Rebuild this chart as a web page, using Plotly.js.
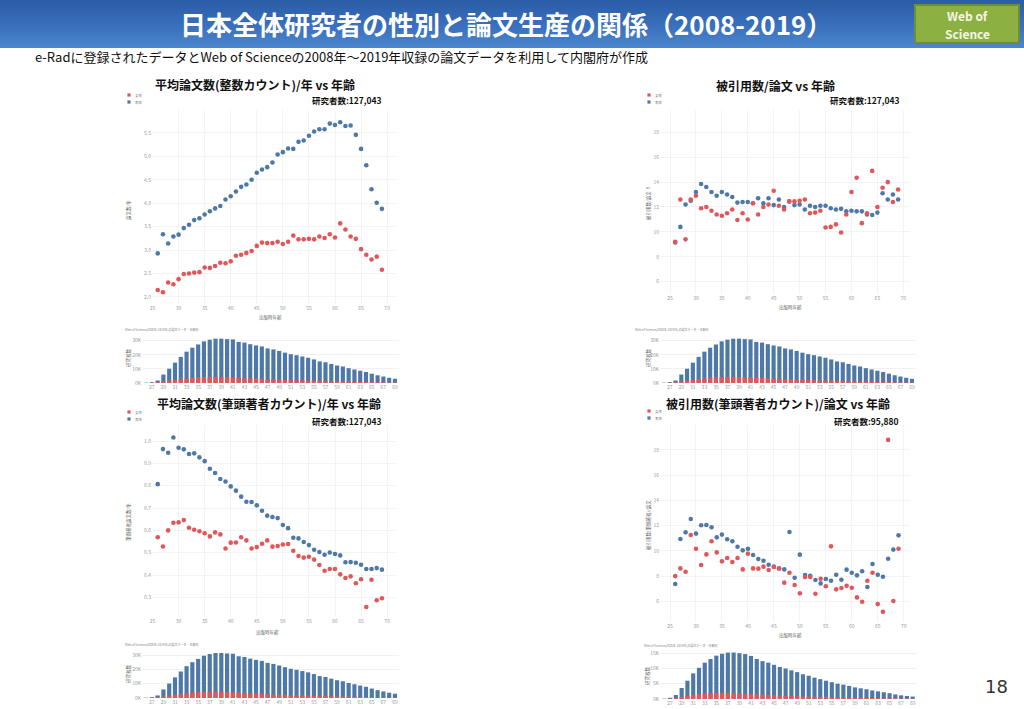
<!DOCTYPE html>
<html><head><meta charset="utf-8">
<script src="https://cdn.plot.ly/plotly-3.0.1.min.js"></script>
<style>
html,body{margin:0;padding:0;background:#fff;}
#hdr{position:absolute;left:0;top:0;width:1024px;height:48px;background:linear-gradient(180deg,#2b5ca6 0%,#3a70bd 55%,#4b86cf 100%);}
#chart{position:absolute;left:0;top:0;width:1024px;height:709px;}
</style></head><body>
<div id="hdr"></div><div id="chart"></div>
<script>
// ---- data ----
const ages = [26,27,28,29,30,31,32,33,34,35,36,37,38,39,40,41,42,43,44,45,46,47,48,49,50,51,52,53,54,55,56,57,58,59,60,61,62,63,64,65,66,67,68,69];
const barTickAges = [27,29,31,33,35,37,39,41,43,45,47,49,51,53,55,57,59,61,63,65,67,69];

// 平均論文数(整数カウント)/年
const papersMen   = [2.93,3.34,3.14,3.29,3.33,3.47,3.54,3.64,3.68,3.76,3.83,3.89,3.94,4.08,4.15,4.25,4.35,4.40,4.50,4.65,4.72,4.77,4.87,5.04,5.09,5.17,5.16,5.31,5.34,5.44,5.53,5.58,5.58,5.70,5.67,5.73,5.65,5.66,5.46,5.16,4.81,4.30,4.01,3.88];
const papersWomen = [2.15,2.10,2.31,2.27,2.38,2.49,2.50,2.52,2.53,2.63,2.62,2.66,2.73,2.72,2.76,2.88,2.90,2.94,2.98,3.09,3.16,3.15,3.15,3.18,3.13,3.18,3.31,3.23,3.23,3.24,3.23,3.29,3.26,3.34,3.27,3.57,3.44,3.29,3.24,3.02,2.90,2.80,2.86,2.58];

// 被引用数/論文
const citesMen   = [9.15,10.4,12.2,12.5,13.2,13.85,13.6,13.2,12.9,13.2,13.0,12.8,12.35,12.4,12.4,12.3,12.7,12.3,12.7,12.15,12.6,12.0,12.45,12.15,12.2,11.8,12.1,12.0,12.1,12.1,11.9,11.8,11.85,11.65,11.7,11.65,11.65,11.4,11.35,11.55,13.1,12.6,13.0,12.6];
const citesWomen = [9.2,12.6,9.4,12.6,12.9,11.9,12.0,11.7,11.4,11.3,11.5,11.8,10.95,11.5,11.0,12.3,11.4,12.0,12.2,13.3,12.1,11.8,12.45,12.45,12.5,12.6,11.5,11.55,11.7,10.35,10.4,10.6,9.95,11.4,13.2,14.35,10.7,11.5,14.9,12.0,13.55,14.0,12.4,13.4];

// 平均論文数(筆頭著者カウント)/年
const firstMen   = [0.807,0.964,0.948,1.016,0.970,0.963,0.942,0.945,0.927,0.910,0.876,0.857,0.830,0.819,0.797,0.778,0.751,0.728,0.727,0.712,0.688,0.666,0.660,0.655,0.624,0.610,0.567,0.564,0.548,0.534,0.513,0.503,0.491,0.501,0.494,0.488,0.457,0.458,0.455,0.446,0.427,0.427,0.431,0.424];
const firstWomen = [0.569,0.528,0.600,0.634,0.636,0.646,0.612,0.603,0.596,0.587,0.573,0.591,0.582,0.519,0.545,0.546,0.569,0.555,0.519,0.525,0.540,0.555,0.527,0.530,0.537,0.539,0.509,0.485,0.478,0.482,0.469,0.445,0.419,0.427,0.427,0.403,0.387,0.394,0.363,0.381,0.257,0.379,0.287,0.296];

// 被引用数(筆頭著者カウント)/論文
const firstCitesMen   = [7.37,10.94,11.47,12.53,11.37,12.03,12.05,11.87,11.07,11.29,10.92,10.76,10.33,10.04,10.17,9.67,9.35,9.22,8.90,8.75,8.6,8.53,11.5,7.87,9.7,8.08,8.03,7.69,7.42,7.77,7.63,8.11,7.71,8.51,8.27,8.06,8.38,7.13,8.96,8.11,7.95,9.38,10.1,11.23];
const firstCitesWomen = [8.0,8.61,8.35,11.26,10.17,8.88,9.72,10.76,9.88,9.17,9.43,9.12,9.43,8.53,9.78,8.61,8.59,8.75,8.48,8.72,8.61,7.48,8.27,7.29,6.63,7.93,7.93,6.60,7.79,7.19,10.36,6.95,7.05,7.24,7.08,6.31,5.97,7.63,8.27,5.78,5.17,18.8,6.02,10.17];

// 研究者数 (千人) — 全研究者 127,043
const countAll   = [0.2,0.6,1.8,6.0,10.1,14.4,18.5,22.2,25.0,27.3,29.5,30.7,31.4,31.4,31.1,30.9,29.1,28.6,27.5,26.6,25.9,24.5,23.8,22.7,21.5,20.4,19.7,18.8,17.9,16.7,15.3,14.7,13.5,12.4,11.7,10.5,9.6,8.7,7.8,6.6,5.5,4.6,3.7,3.0];
const countWomen = [0.05,0.2,0.5,1.0,1.6,2.2,2.8,3.3,3.7,4.0,4.2,4.3,4.3,4.2,4.1,3.9,3.7,3.5,3.3,3.1,2.9,2.7,2.5,2.3,2.2,2.0,1.9,1.8,1.7,1.6,1.5,1.4,1.3,1.2,1.1,1.0,0.9,0.8,0.7,0.6,0.5,0.4,0.35,0.3];
// 研究者数 (千人) — 筆頭著者 95,880
const countFirstAll   = [0.1,0.4,1.3,3.6,6.0,8.4,10.2,11.9,13.1,14.2,14.8,15.2,15.2,15.0,14.7,14.1,13.1,12.4,11.9,11.2,10.5,10.0,9.4,8.8,8.1,7.6,7.0,6.5,6.0,5.5,5.0,4.7,4.3,3.8,3.5,3.2,2.8,2.5,2.2,1.9,1.5,1.2,1.0,0.8];
const countFirstWomen = [0.02,0.1,0.3,0.6,1.0,1.3,1.6,1.8,1.9,2.0,2.0,2.0,1.9,1.8,1.7,1.6,1.5,1.4,1.3,1.2,1.1,1.0,0.95,0.9,0.85,0.8,0.75,0.7,0.65,0.6,0.55,0.5,0.45,0.4,0.38,0.35,0.32,0.3,0.27,0.24,0.2,0.17,0.14,0.12];

// ---- styles ----
const W = 1024, H = 709;
const BLUE = '#4e79a7', RED = '#e15759';
const FONT = 'Noto Sans CJK JP, Noto Sans, sans-serif';
const px = v => v / W;
const py = v => 1 - v / H;
const xd = (a, b) => [px(a), px(b)];
const yd = (top, bottom) => [py(bottom), py(top)];

function scat(x, y, color, name, ax) {
  return {type:'scatter', mode:'markers', x:x, y:y, name:name, showlegend:false,
    xaxis:'x'+ax, yaxis:'y'+ax, marker:{color:color, size:4.6, line:{width:0}}, hoverinfo:'skip'};
}
function bars(x, y, color, ax) {
  return {type:'bar', x:x, y:y, showlegend:false, xaxis:'x'+ax, yaxis:'y'+ax,
    marker:{color:color, line:{width:0}}, hoverinfo:'skip'};
}

const data = [
  scat(ages, papersMen, BLUE, '男性', ''), scat(ages, papersWomen, RED, '女性', ''),
  scat(ages, citesMen, BLUE, '男性', '2'), scat(ages, citesWomen, RED, '女性', '2'),
  scat(ages, firstMen, BLUE, '男性', '3'), scat(ages, firstWomen, RED, '女性', '3'),
  scat(ages, firstCitesMen, BLUE, '男性', '4'), scat(ages, firstCitesWomen, RED, '女性', '4'),
  bars(ages, countAll, BLUE, '5'), bars(ages, countWomen, RED, '5'),
  bars(ages, countAll, BLUE, '6'), bars(ages, countWomen, RED, '6'),
  bars(ages, countAll, BLUE, '7'), bars(ages, countWomen, RED, '7'),
  bars(ages, countFirstAll, BLUE, '8'), bars(ages, countFirstWomen, RED, '8'),
];
data[0].xaxis = 'x'; data[0].yaxis = 'y'; data[1].xaxis = 'x'; data[1].yaxis = 'y';

const tickF = {size:5, color:'#9a9a9a', family:FONT};
function sx(dom, range, anchor) {
  return {domain:dom, range:range, anchor:anchor, tickvals:[25,30,35,40,45,50,55,60,65,70],
    showgrid:true, gridcolor:'#f3f3f3', zeroline:false, showline:false, ticks:'', tickfont:tickF};
}
function sy(dom, range, anchor, dtick, fmt) {
  return {domain:dom, range:range, anchor:anchor, dtick:dtick, tickformat:fmt,
    showgrid:true, gridcolor:'#f3f3f3', zeroline:false, showline:false, ticks:'', tickfont:tickF};
}
function bx(dom, range, anchor) {
  return {domain:dom, range:range, anchor:anchor, tickvals:barTickAges, showgrid:false,
    zeroline:false, showline:false, ticks:'', tickfont:tickF};
}
function by(dom, range, anchor, vals, txt) {
  return {domain:dom, range:range, anchor:anchor, tickvals:vals, ticktext:txt, showgrid:true,
    gridcolor:'#f1f1f1', zeroline:false, showline:false, ticks:'', tickfont:tickF};
}

const ann = [];
function A(text, x, y, size, o) {
  ann.push(Object.assign({text:text, x:px(x), y:py(y), xref:'paper', yref:'paper', showarrow:false,
    xanchor:'center', yanchor:'middle', font:{size:size, color:'#111', family:FONT}}, o || {}));
}
const shapes = [];
function R(x0, y0, x1, y1, fill, line) {
  shapes.push({type:'rect', xref:'paper', yref:'paper', x0:px(x0), x1:px(x1), y0:py(y1), y1:py(y0),
    fillcolor:fill, line: line || {width:0}, layer:'above'});
}

// header
A('<b>日本全体研究者の性別と論文生産の関係（2008-2019）</b>', 506, 24, 26, {font:{size:26, color:'#fff', family:FONT}});
R(915, 5, 1019, 43, '#8db043', {color:'#6e8e36', width:2});
const wf = {size:12, color:'#f4f6e4', family:FONT};
A('<b>Web of</b>', 967, 16, 12, {font:wf});
A('<b>Science</b>', 967, 33, 12, {font:wf});
A('e-Radに登録されたデータとWeb of Scienceの2008年～2019年収録の論文データを利用して内閣府が作成', 33, 57, 13, {xanchor:'left'});
A('18', 996, 686, 18, {font:{size:18, color:'#333', family:'DejaVu Sans, sans-serif'}});

// chart titles
A('<b>平均論文数(整数カウント)/年 vs 年齢</b>', 255, 84, 12);
A('<b>被引用数/論文 vs 年齢</b>', 775, 85, 12);
A('<b>平均論文数(筆頭著者カウント)/年 vs 年齢</b>', 269, 403, 12);
A('<b>被引用数(筆頭著者カウント)/論文 vs 年齢</b>', 778, 403, 12);
A('<b>研究者数:127,043</b>', 347, 100, 8.5);
A('<b>研究者数:127,043</b>', 865, 100, 8.5);
A('<b>研究者数:127,043</b>', 347, 421, 8.5);
A('<b>研究者数:95,880</b>', 866, 421, 8.5);

// legends
[[129,95],[649,95],[129,412],[649,411]].forEach(p => {
  R(p[0]-1.6, p[1]-1.6, p[0]+1.6, p[1]+1.6, RED);
  R(p[0]-1.6, p[1]+5.4, p[0]+1.6, p[1]+8.6, BLUE);
  A('女性', p[0]+3.5, p[1], 3.5, {xanchor:'left', font:{size:3.5, color:'#777', family:FONT}});
  A('男性', p[0]+3.5, p[1]+7, 3.5, {xanchor:'left', font:{size:3.5, color:'#777', family:FONT}});
});

// axis titles
const g = {size:4.5, color:'#666', family:FONT};
A('出版時年齢', 270, 317, 4.5, {font:g});
A('出版時年齢', 790, 307, 4.5, {font:g});
A('出版時年齢', 267, 632, 4.5, {font:g});
A('出版時年齢', 790, 635, 4.5, {font:g});
A('論文数/年', 128, 210, 4.5, {font:g, textangle:-90});
A('被引用数/論文 ↑', 648, 203, 4.5, {font:g, textangle:-90});
A('筆頭著者論文数/年', 128, 522, 4.5, {font:g, textangle:-90});
A('被引用数(筆頭著者)/論文', 648, 525, 4.5, {font:g, textangle:-90});
A('研究者数', 128, 358, 4.5, {font:g, textangle:-90});
A('研究者数', 648, 358, 4.5, {font:g, textangle:-90});
A('研究者数', 128, 674, 4.5, {font:g, textangle:-90});
A('研究者数', 647, 676, 4.5, {font:g, textangle:-90});
const sm = {size:3, color:'#888', family:FONT};
A('Web of Science(2008年-2019年)の論文データ・年齢別', 123, 330, 3, {xanchor:'left', font:sm});
A('Web of Science(2008年-2019年)の論文データ・年齢別', 633, 330, 3, {xanchor:'left', font:sm});
A('Web of Science(2008年-2019年)の論文データ・年齢別', 123, 644, 3, {xanchor:'left', font:sm});
A('Web of Science(2008年-2019年)の論文データ・年齢別', 642, 645, 3, {xanchor:'left', font:sm});

const kT = ['0K','10K','20K','30K'];
const layout = {
  width:W, height:H, margin:{l:0,r:0,t:0,b:0},
  paper_bgcolor:'rgba(0,0,0,0)', plot_bgcolor:'#fff',
  font:{family:FONT}, barmode:'overlay', bargap:0.28, showlegend:false,
  xaxis:  sx(xd(152,396), [24.9,71.7], 'y'),
  yaxis:  sy(yd(110,304), [1.85,5.99], 'x', 0.5, '.1f'),
  xaxis2: sx(xd(660,910), [23.07,71.29], 'y2'),
  yaxis2: sy(yd(110,294), [5.01,19.79], 'x2', 2, 'd'),
  xaxis3: sx(xd(152,396), [24.9,71.7], 'y3'),
  yaxis3: sy(yd(425,617), [0.212,1.072], 'x3', 0.1, '.1f'),
  xaxis4: sx(xd(660,910), [23.07,71.21], 'y4'),
  yaxis4: sy(yd(425,622), [4.36,19.98], 'x4', 2, 'd'),
  xaxis5: bx(xd(142,399), [25.3,69.7], 'y5'),
  yaxis5: by(yd(335,383), [0,34], 'x5', [0,10,20,30], kT),
  xaxis6: bx(xd(660,916), [25.3,69.7], 'y6'),
  yaxis6: by(yd(335,383), [0,34], 'x6', [0,10,20,30], kT),
  xaxis7: bx(xd(142,399), [25.3,69.7], 'y7'),
  yaxis7: by(yd(650,698), [0,33.5], 'x7', [0,10,20,30], kT),
  xaxis8: bx(xd(660,917), [25.25,69.75], 'y8'),
  yaxis8: by(yd(648,699), [0,16.7], 'x8', [0,5,10,15], ['0K','5K','10K','15K']),
  annotations: ann, shapes: shapes
};
Plotly.newPlot('chart', data, layout, {displayModeBar:false, staticPlot:true});
</script></body></html>
